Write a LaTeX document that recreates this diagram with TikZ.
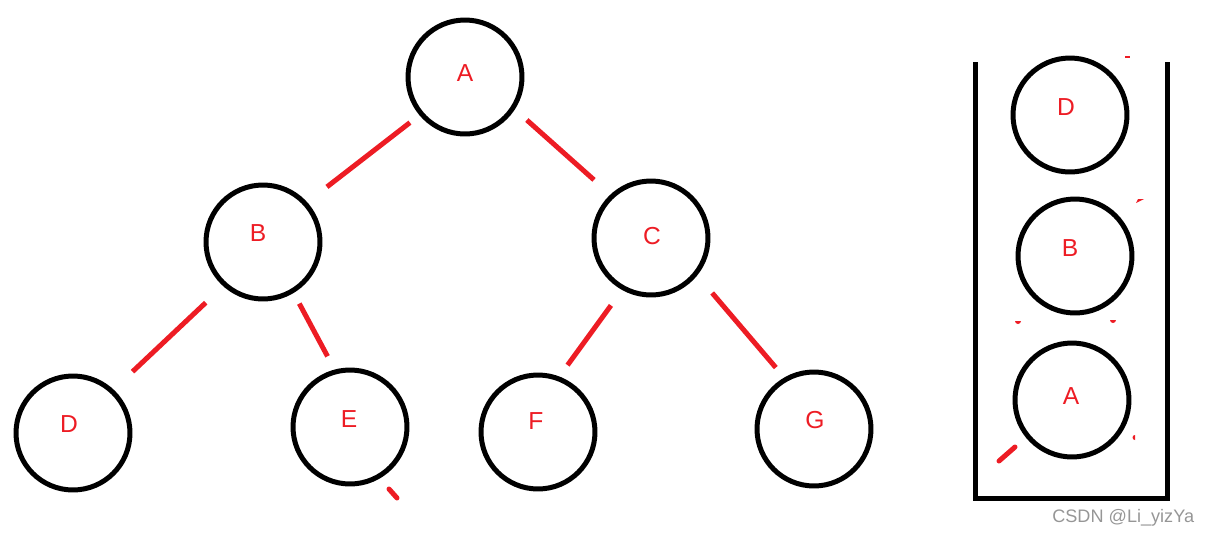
\documentclass[tikz,border=0pt]{standalone}
\usepackage{fontspec}
\setmainfont{Liberation Sans}
\usepackage{xcolor}
\usetikzlibrary{positioning, calc}
\definecolor{paintred}{RGB}{237,28,36}
\definecolor{markgray}{RGB}{150,150,150}

\begin{document}
\begin{tikzpicture}[x=0.02cm, y=-0.02cm,
      vertex/.style={draw, circle, line width=0.1cm, minimum size=2.28cm, inner sep=0pt},
      letter/.style={text=paintred, font=\fontsize{14}{16}\selectfont, inner sep=0pt},
      edge/.style={draw=paintred, line width=0.1cm},
      stroke/.style={draw=paintred, line width=0.1cm, line cap=round}]
    \useasboundingbox (0,0) rectangle (1205,535);
    % binary tree and stack, letter offset from centre as drawn
    \foreach \n/\t/\x/\y/\dx/\dy in {A/A/465/77/0/-4, B/B/263/242/-5/-9, C/C/651/238/1/-2,
                                     D/D/73/433/-4/-9, E/E/350/427/-1/-8, F/F/538/432/-2/-11,
                                     G/G/814/429/1/-9,
                                     sD/D/1070/115/-4/-8, sB/B/1075/256/-5/-8, sA/A/1072/400/-1/-4}
      \node[vertex, label={[letter, xshift=\dx*0.02cm, yshift=-\dy*0.02cm]center:\t}]
        (\n) at (\x,\y) {};
    \foreach \from/\a/\to/\b/\s/\e in {A/220/B/42/12/25, A/327/C/133/16/22,
                                       B/228/D/47/24/26, B/301/E/105/12/15,
                                       C/241/F/69/19/14, C/321/G/120/23/13}
      \draw[edge, shorten <=\s*0.02cm, shorten >=\e*0.02cm] (\from.\a) -- (\to.\b);
    % stack box, open at the top
    \coordinate (sTL) at (975,62);
    \coordinate (sTR) at (1167,62);
    \draw[line width=0.1cm] (sTL) |- (1167,498) -- (sTR);
    % leftover strokes
    \draw[stroke] (389,489) -- (397,498);
    \draw[stroke] (999,461) -- (1015,447);
    \fill[paintred] (1125,56) rectangle (1130,57.5);
    \fill[paintred] (1136,203) -- (1144,199) -- (1138,199) -- cycle;
    \fill[paintred] (1015,321) arc (180:0:3) -- cycle;
    \fill[paintred] (1110,320) arc (180:0:3) -- cycle;
    \fill[paintred] (1135,440) arc (90:270:2.5) -- cycle;
    % watermark
    \node[text=markgray, font=\fontsize{10.3}{12}\selectfont, anchor=base west, inner sep=0pt]
      (mark) at (1052,522) {CSDN @Li\_yizYa};
  \end{tikzpicture}
\end{document}
